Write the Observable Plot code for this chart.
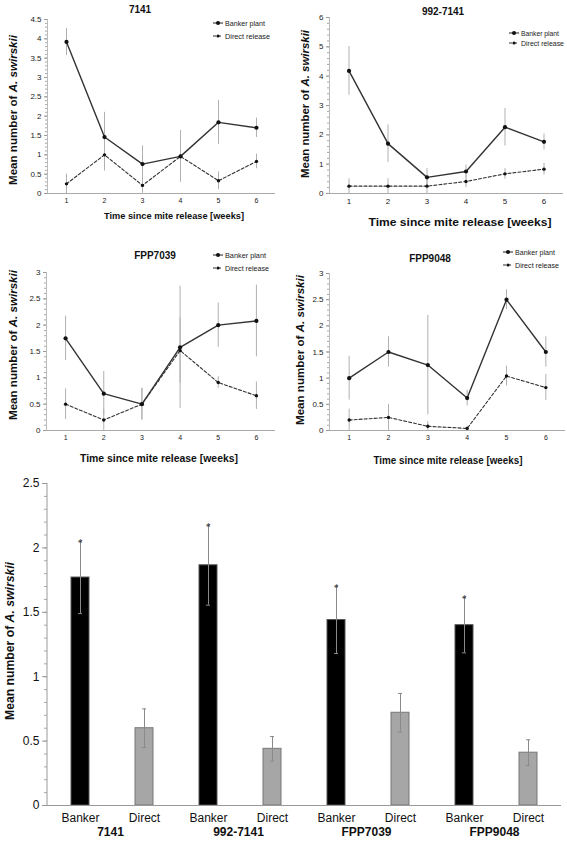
<!DOCTYPE html>
<html>
<head>
<meta charset="utf-8">
<script src="https://cdn.jsdelivr.net/npm/d3@7"></script>
<script src="https://cdn.jsdelivr.net/npm/@observablehq/plot@0.6"></script>
<style>
  html, body { margin: 0; padding: 0; background: #fff; }
  #root { position: relative; width: 567px; height: 841px; overflow: hidden; background: #fff; }
  #root svg { position: absolute; overflow: visible; }
</style>
</head>
<body>
<div id="root"></div>
<script>
// ---------- DATA ----------
const WEEKS = [1, 2, 3, 4, 5, 6];

// Panel 7141
const P7141_BANKER     = [3.92, 1.46, 0.76, 0.96, 1.84, 1.70];
const P7141_BANKER_SE  = [0.35, 0.64, 0.47, 0.67, 0.57, 0.25];
const P7141_DIRECT     = [0.25, 1.00, 0.21, 0.96, 0.33, 0.83];
const P7141_DIRECT_SE  = [0.25, 0.42, 0.20, 0.38, 0.23, 0.19];

// Panel 992-7141
const P992_BANKER      = [4.18, 1.70, 0.55, 0.75, 2.26, 1.76];
const P992_BANKER_SE   = [0.83, 0.64, 0.30, 0.22, 0.64, 0.27];
const P992_DIRECT      = [0.25, 0.25, 0.25, 0.41, 0.67, 0.83];
const P992_DIRECT_SE   = [0.25, 0.25, 0.25, 0.21, 0.18, 0.20];

// Panel FPP7039
const P7039_BANKER     = [1.75, 0.70, 0.50, 1.58, 2.00, 2.08];
const P7039_BANKER_SE  = [0.42, 0.42, 0.30, 1.16, 0.42, 0.68];
const P7039_DIRECT     = [0.50, 0.20, 0.50, 1.52, 0.91, 0.66];
const P7039_DIRECT_SE  = [0.29, 0.20, 0.30, 0.62, 0.11, 0.26];

// Panel FPP9048
const P9048_BANKER     = [1.00, 1.50, 1.25, 0.62, 2.50, 1.50];
const P9048_BANKER_SE  = [0.42, 0.29, 0.95, 0.15, 0.19, 0.29];
const P9048_DIRECT     = [0.20, 0.25, 0.08, 0.04, 1.04, 0.82];
const P9048_DIRECT_SE  = [0.21, 0.25, 0.09, 0.04, 0.19, 0.25];

// Summary bar chart
const GROUPS = ["7141", "992-7141", "FPP7039", "FPP9048"];
const TREATMENTS = ["Banker", "Direct"];
const BAR_BANKER    = [1.77, 1.865, 1.44, 1.40];
const BAR_BANKER_SE = [0.28, 0.31, 0.26, 0.215];
const BAR_DIRECT    = [0.60, 0.44, 0.72, 0.41];
const BAR_DIRECT_SE = [0.15, 0.095, 0.15, 0.10];

const TICKS_45 = [0, 0.5, 1, 1.5, 2, 2.5, 3, 3.5, 4, 4.5];
const TICKS_6  = [0, 1, 2, 3, 4, 5, 6];
const TICKS_3  = [0, 0.5, 1, 1.5, 2, 2.5, 3];
const TICKS_25 = [0, 0.5, 1, 1.5, 2, 2.5];

const X_TITLE = "Time since mite release [weeks]";
const Y_TITLE_A = "Mean number of ";
const Y_TITLE_B = "A. swirskii";
const LEGEND = ["Banker plant", "Direct release"];

// ---------- HELPERS ----------
const FONT = "'Liberation Sans', Arial, sans-serif";
const root = document.getElementById("root");
const fmt = d => String(d);

function place(svg, left, top) {
  svg.style.left = left + "px";
  svg.style.top = top + "px";
  root.appendChild(svg);
  return svg;
}

function addText(svg, o) {
  const t = d3.select(svg).append("text")
    .attr("transform", `translate(${o.x},${o.y})${o.rotate ? " rotate(-90)" : ""}`)
    .attr("text-anchor", "middle")
    .attr("dy", "0.35em")
    .attr("font-family", FONT)
    .attr("font-size", o.size)
    .attr("font-weight", o.weight || "normal")
    .attr("fill", "#111");
  if (o.length) t.attr("textLength", o.length).attr("lengthAdjust", "spacingAndGlyphs");
  if (o.italic) {
    t.append("tspan").text(o.text);
    t.append("tspan").attr("font-style", "italic").text(o.italic);
  } else {
    t.text(o.text);
  }
  return t;
}

function addLegend(svg, x, yA, yB, size, lens) {
  const g = d3.select(svg).append("g").attr("text-anchor", "start");
  [[yA, LEGEND[0], null, 2, lens[0]], [yB, LEGEND[1], "3,2", 1.6, lens[1]]].forEach(([y, label, dash, r, len]) => {
    g.append("line").attr("x1", x).attr("x2", x + 10).attr("y1", y).attr("y2", y)
      .attr("stroke", "#333").attr("stroke-width", 1.1).attr("stroke-dasharray", dash);
    g.append("circle").attr("cx", x + 5).attr("cy", y).attr("r", r).attr("fill", "#111");
    g.append("text").attr("x", x + 12).attr("y", y).attr("dy", "0.35em")
      .attr("text-anchor", "start")
      .attr("textLength", len).attr("lengthAdjust", "spacingAndGlyphs")
      .attr("font-family", FONT).attr("font-size", size).attr("fill", "#222").text(label);
  });
}

function linePanel(c) {
  const rows = WEEKS.map((w, i) => ({
    week: w,
    banker: c.banker[i], bankerSe: c.bankerSe[i],
    direct: c.direct[i], directSe: c.directSe[i]
  }));
  const minor = d3.range(0, c.ymax + 1e-9, c.minorStep);
  const svg = Plot.plot({
    width: c.width, height: c.height,
    marginLeft: c.ml, marginRight: c.mr, marginTop: c.mt, marginBottom: c.mb,
    x: {domain: [0.5, 6.5], label: null},
    y: {domain: [0, c.ymax], label: null},
    style: {fontFamily: FONT, fontSize: "8px", color: "#222", background: "transparent", overflow: "visible"},
    marks: [
      Plot.axisY({ticks: minor, tickSize: 2, tickFormat: () => "", label: null, stroke: "#aaa"}),
      Plot.axisY({ticks: c.yTicks, tickSize: 3, tickPadding: 3, label: null, stroke: "#999", fontSize: c.yFont, tickFormat: fmt}),
      Plot.ruleX([0.5], {stroke: "#bbb"}),
      Plot.ruleY([0], {stroke: "#aaa"}),
      Plot.axisX({ticks: WEEKS, tickSize: 0, tickPadding: 5, label: null, fontSize: c.xFont, tickFormat: fmt}),
      Plot.ruleX(rows, {x: "week", y1: d => Math.max(0, d.banker - d.bankerSe), y2: d => d.banker + d.bankerSe, stroke: "#b0b0b0"}),
      Plot.ruleX(rows, {x: "week", y1: d => Math.max(0, d.direct - d.directSe), y2: d => d.direct + d.directSe, stroke: "#b0b0b0"}),
      Plot.line(rows, {x: "week", y: "direct", stroke: "#333", strokeWidth: 1.1, strokeDasharray: "3,2"}),
      Plot.line(rows, {x: "week", y: "banker", stroke: "#333", strokeWidth: 1.4}),
      Plot.dot(rows, {x: "week", y: "direct", r: 1.7, fill: "#111"}),
      Plot.dot(rows, {x: "week", y: "banker", r: 2.1, fill: "#111"})
    ]
  });
  place(svg, c.left, c.top);
  addText(svg, {x: c.title[0], y: c.title[1], text: c.name, size: 10, weight: "bold"});
  addText(svg, {x: c.xt[0], y: c.xt[1], text: X_TITLE, size: c.xt[3], weight: "bold", length: c.xt[2]});
  addText(svg, {x: c.yt[0], y: c.yt[1], text: Y_TITLE_A, italic: Y_TITLE_B, size: c.yt[3], weight: "bold", length: c.yt[2], rotate: true});
  addLegend(svg, c.leg[0], c.leg[1], c.leg[2], 7.5, c.legLen);
  return svg;
}

// ---------- LINE PANELS ----------
linePanel({
  name: GROUPS[0], left: 0, top: 0, width: 283, height: 220,
  ml: 47, mr: 8, mt: 19, mb: 27, ymax: 4.5, yTicks: TICKS_45, minorStep: 0.1, yFont: 8, xFont: 7,
  banker: P7141_BANKER, bankerSe: P7141_BANKER_SE, direct: P7141_DIRECT, directSe: P7141_DIRECT_SE,
  title: [140, 9], xt: [174, 216, 140, 8.5], yt: [13, 110, 150, 10], leg: [213, 23, 36], legLen: [40, 45]
});
linePanel({
  name: GROUPS[1], left: 283, top: 0, width: 284, height: 220,
  ml: 46, mr: 4, mt: 17, mb: 27, ymax: 6, yTicks: TICKS_6, minorStep: 0.2, yFont: 8, xFont: 8,
  banker: P992_BANKER, bankerSe: P992_BANKER_SE, direct: P992_DIRECT, directSe: P992_DIRECT_SE,
  title: [160, 11], xt: [177, 222, 183, 11], yt: [22, 104, 148, 11], leg: [226, 33, 43], legLen: [38, 43]
});
linePanel({
  name: GROUPS[2], left: 0, top: 240, width: 283, height: 225,
  ml: 46, mr: 8, mt: 32, mb: 35, ymax: 3, yTicks: TICKS_3, minorStep: 0.1, yFont: 8, xFont: 7,
  banker: P7039_BANKER, bankerSe: P7039_BANKER_SE, direct: P7039_DIRECT, directSe: P7039_DIRECT_SE,
  title: [155, 15], xt: [159, 218, 158, 10], yt: [13, 105, 150, 10.5], leg: [213, 15, 28], legLen: [41, 44]
});
linePanel({
  name: GROUPS[3], left: 283, top: 240, width: 284, height: 225,
  ml: 46, mr: 2, mt: 33, mb: 35, ymax: 3, yTicks: TICKS_3, minorStep: 0.1, yFont: 8, xFont: 7,
  banker: P9048_BANKER, bankerSe: P9048_BANKER_SE, direct: P9048_DIRECT, directSe: P9048_DIRECT_SE,
  title: [147, 18], xt: [165, 220, 149, 10], yt: [17, 110, 150, 10.5], leg: [220, 12, 25], legLen: [40, 44]
});

// ---------- BAR CHART ----------
const bars = GROUPS.flatMap((g, i) => [
  {group: g, trt: TREATMENTS[0], key: g + "|" + TREATMENTS[0], mean: BAR_BANKER[i], se: BAR_BANKER_SE[i]},
  {group: g, trt: TREATMENTS[1], key: g + "|" + TREATMENTS[1], mean: BAR_DIRECT[i], se: BAR_DIRECT_SE[i]}
]);
const barMinor = d3.range(0, 2.5 + 1e-9, 0.1);
const barSvg = Plot.plot({
  width: 567, height: 376,
  marginLeft: 47, marginRight: 6, marginTop: 18, marginBottom: 36,
  x: {domain: bars.map(d => d.key), paddingInner: 0.72, paddingOuter: 0.36, label: null},
  y: {domain: [0, 2.5], label: null},
  style: {fontFamily: FONT, fontSize: "12px", color: "#111", background: "transparent", overflow: "visible"},
  marks: [
    Plot.axisY({ticks: barMinor, tickSize: 3, tickFormat: () => "", label: null, stroke: "#aaa"}),
    Plot.axisY({ticks: TICKS_25, tickSize: 5, tickPadding: 3, label: null, stroke: "#999", fontSize: 12, tickFormat: fmt}),
    Plot.barY(bars, {
      x: "key", y: "mean",
      fill: d => d.trt === "Banker" ? "#000" : "#a6a6a6",
      stroke: d => d.trt === "Banker" ? "#555" : "#777",
      strokeWidth: 1
    }),
    Plot.ruleY([0], {stroke: "#999", strokeWidth: 1.2}),
    Plot.ruleX(bars, {x: "key", y1: d => d.mean - d.se, y2: d => d.mean + d.se, stroke: "#8a8a8a"}),
    Plot.tickY(bars, {x: "key", y: d => d.mean + d.se, insetLeft: 7, insetRight: 7, stroke: "#8a8a8a"}),
    Plot.tickY(bars, {x: "key", y: d => d.mean - d.se, insetLeft: 7, insetRight: 7, stroke: "#8a8a8a"}),
    Plot.text(bars.filter(d => d.trt === "Banker"), {x: "key", y: d => d.mean + d.se, text: () => "*", dy: 2, fontSize: 10, fill: "#333"}),
    Plot.axisX({tickSize: 0, tickPadding: 8, fontSize: 12, label: null, tickFormat: k => k.split("|")[1]}),
    Plot.text(GROUPS, {x: g => g + "|" + TREATMENTS[0], dx: 30, frameAnchor: "bottom", dy: 30, fontWeight: "bold", fontSize: 12, fill: "#111"})
  ]
});
place(barSvg, 0, 465);
d3.select(barSvg).append("line")
  .attr("x1", 47).attr("x2", 47).attr("y1", 18).attr("y2", 340)
  .attr("stroke", "#999");
addText(barSvg, {x: 10, y: 176, text: Y_TITLE_A, italic: Y_TITLE_B, size: 12, weight: "bold", length: 158, rotate: true});
</script>
</body>
</html>
